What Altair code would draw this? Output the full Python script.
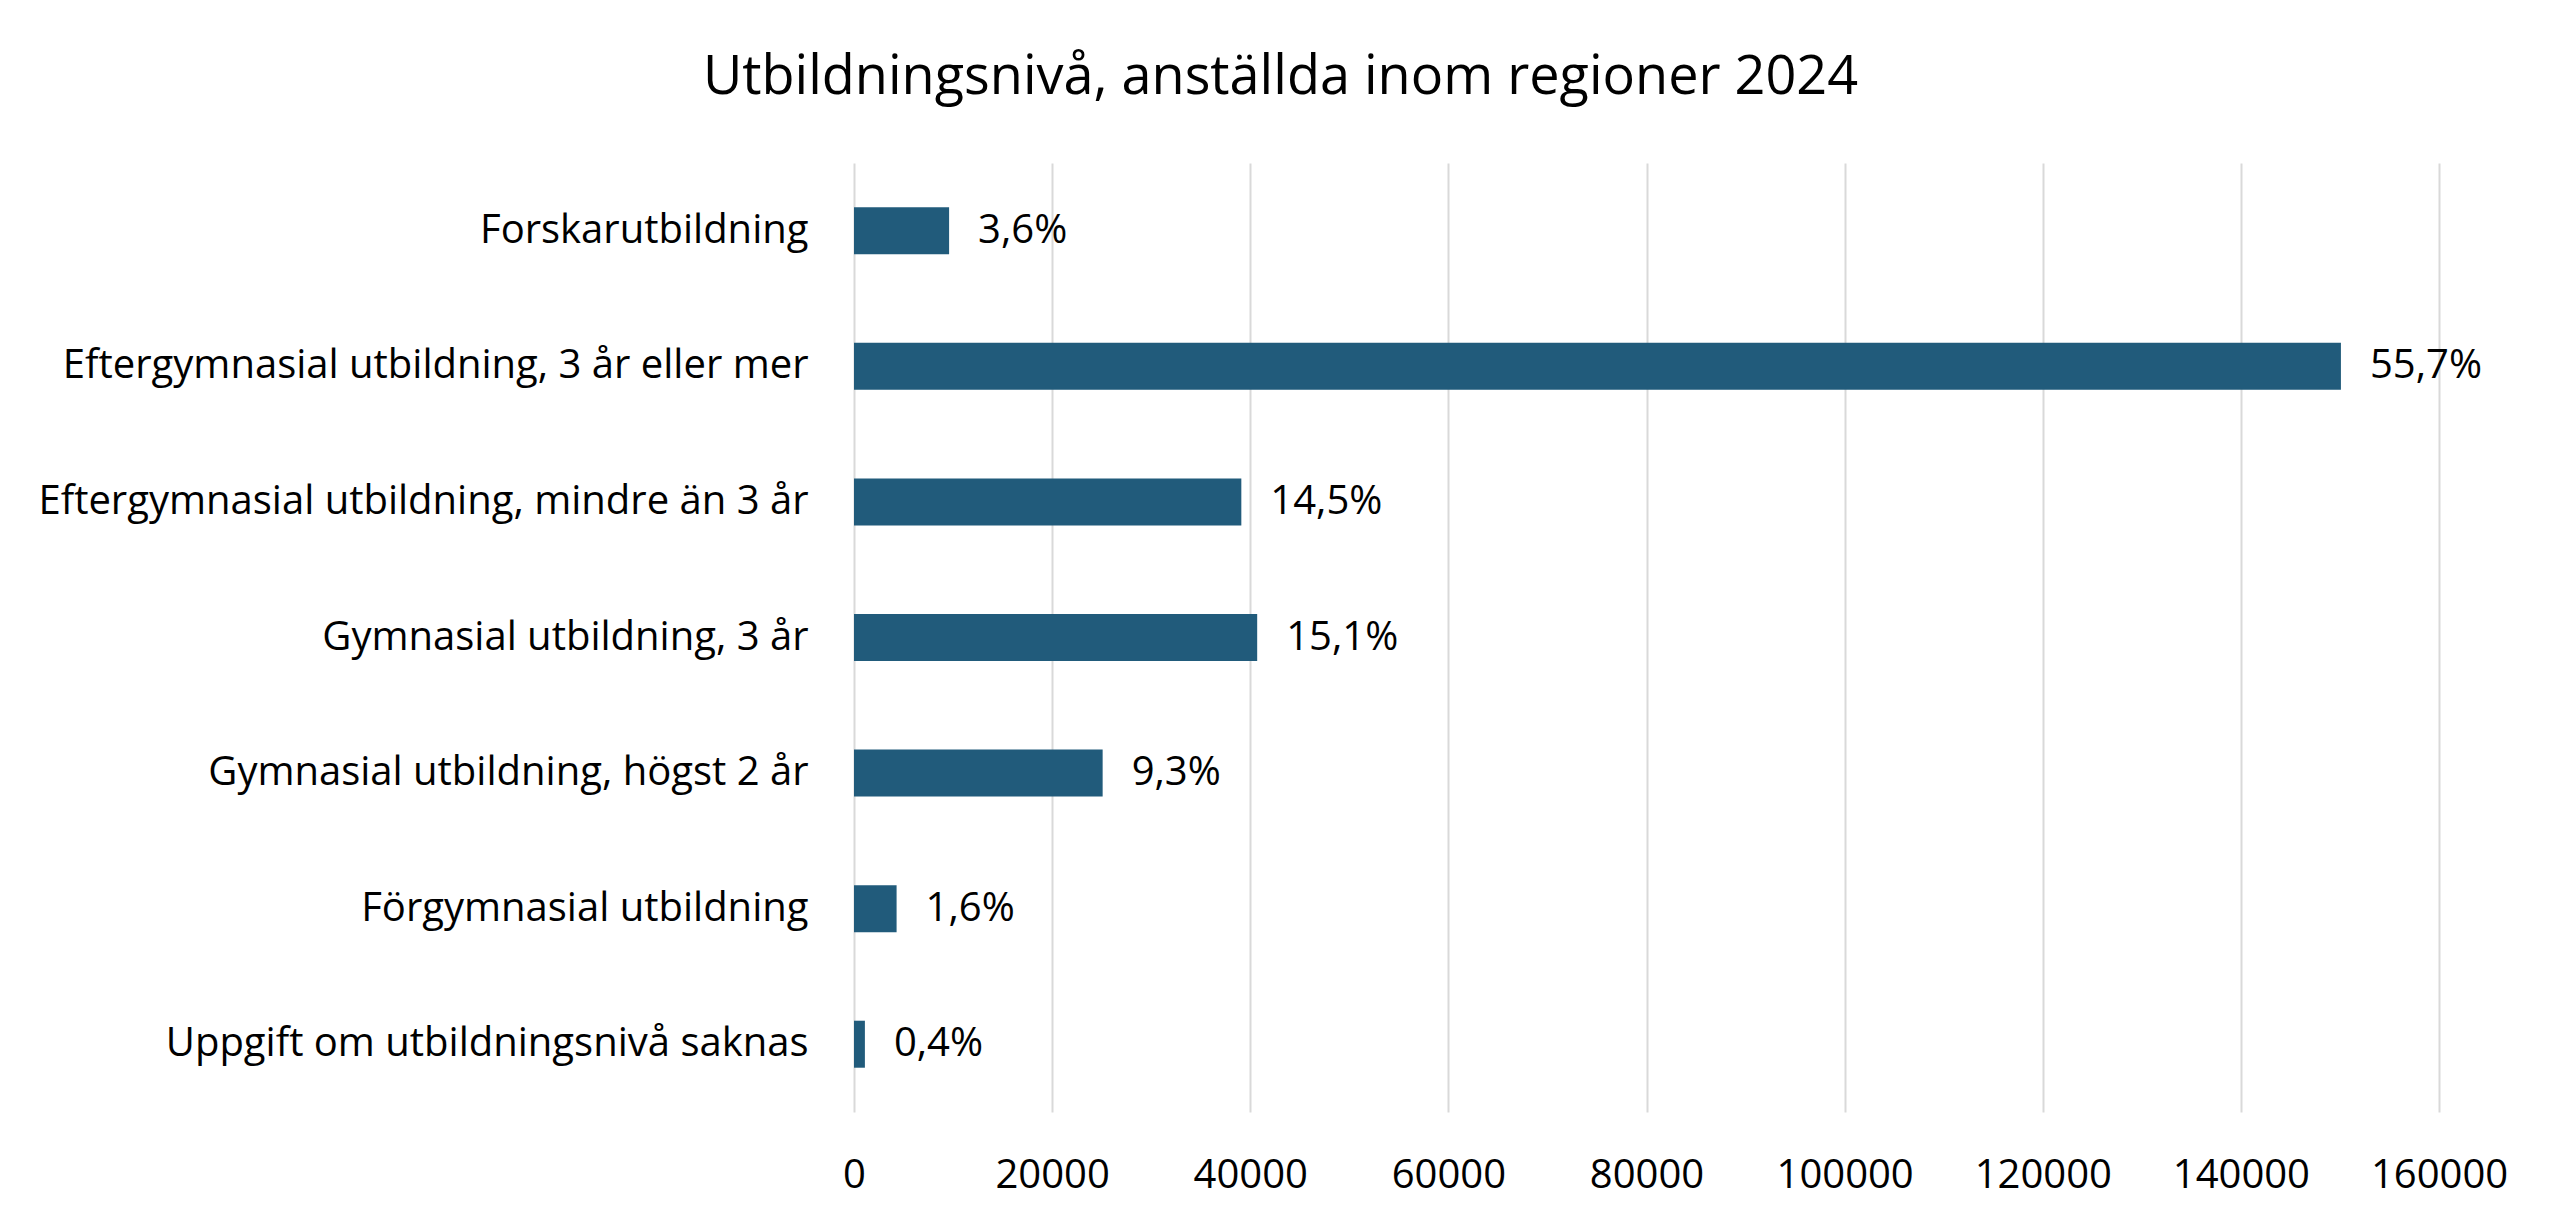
import altair as alt
import pandas as pd

categories = [
    "Forskarutbildning",
    "Eftergymnasial utbildning, 3 år eller mer",
    "Eftergymnasial utbildning, mindre än 3 år",
    "Gymnasial utbildning, 3 år",
    "Gymnasial utbildning, högst 2 år",
    "Förgymnasial utbildning",
    "Uppgift om utbildningsnivå saknas",
]
values = [9600, 150100, 39100, 40700, 25100, 4300, 1100]
labels = ["3,6%", "55,7%", "14,5%", "15,1%", "9,3%", "1,6%", "0,4%"]
x_ticks = [0, 20000, 40000, 60000, 80000, 100000, 120000, 140000, 160000]

df = pd.DataFrame({"cat": categories, "val": values, "lab": labels})

FONT = "Open Sans"

base = alt.Chart(df).encode(
    y=alt.Y("cat:N", sort=categories, title=None,
            axis=alt.Axis(labelFontSize=40, labelFont=FONT, labelColor="#000000",
                          labelPadding=46, ticks=False, domain=False, grid=False,
                          labelLimit=2000)),
)

bars = base.mark_bar(size=47, color="#215B7B").encode(
    x=alt.X("val:Q", title=None,
            scale=alt.Scale(domain=[0, 160000], nice=False),
            axis=alt.Axis(values=x_ticks, format="d", labelFontSize=40, labelFont=FONT,
                          labelColor="#000000", labelPadding=43, ticks=False,
                          labelOverlap=False, labelFlush=False,
                          domain=False, grid=True, gridColor="#d9d9d9", gridWidth=2)),
)

texts = base.mark_text(align="left", baseline="middle", dx=29, fontSize=40,
                       font=FONT, color="#000000").encode(
    x=alt.X("val:Q"),
    text="lab:N",
)

chart = (bars + texts).properties(
    width=1585,
    height=949,
    title=alt.TitleParams("Utbildningsnivå, anställda inom regioner 2024",
                          fontSize=54, font=FONT, fontWeight="normal", color="#000000",
                          anchor="middle", dx=-366, baseline="alphabetic", offset=15),
    autosize=alt.AutoSizeParams(type="none"),
    padding={"left": 846, "top": 155, "right": 113, "bottom": 108},
).configure_view(stroke=None)

chart.save("out.html", embed_options={"renderer": "svg", "actions": False})
